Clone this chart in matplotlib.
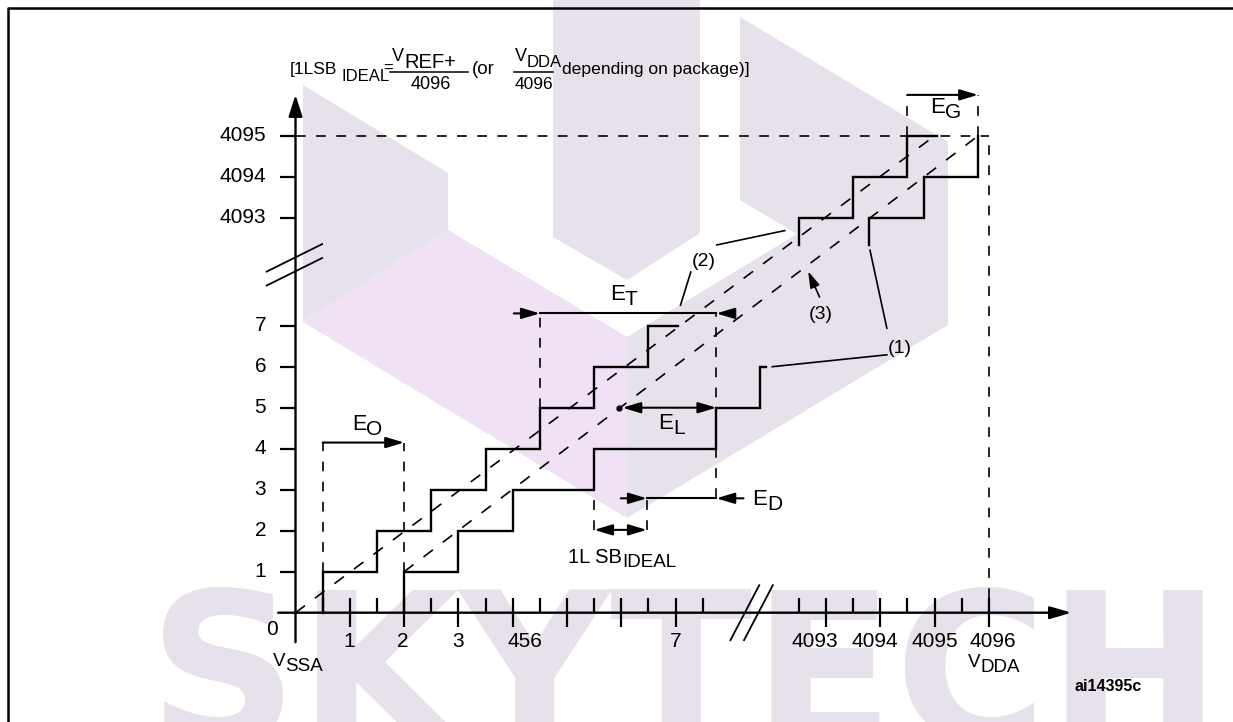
import matplotlib
matplotlib.use("Agg")
import matplotlib.pyplot as plt
from matplotlib.patches import FancyArrowPatch
import numpy as np

plt.rcParams['font.family'] = ['Liberation Sans', 'DejaVu Sans']
plt.rcParams['lines.scale_dashes'] = False

# codes above the axis breaks are drawn shifted down by these amounts
X_SHIFT = 4083.23
Y_SHIFT = 4083.37

# (2) ideal transfer curve
ideal_lo_x = [0.5, 0.5, 1.5, 1.5, 2.5, 2.5, 3.5, 3.5, 4.5, 4.5, 5.5, 5.5, 6.5, 6.5, 7.05]
ideal_lo_y = [0, 1, 1, 2, 2, 3, 3, 4, 4, 5, 5, 6, 6, 7, 7]
ideal_hi_x = [4092.5, 4092.5, 4093.5, 4093.5, 4094.5, 4094.5, 4095.05]
ideal_hi_y = [4092.34, 4093, 4093, 4094, 4094, 4095, 4095]

# (1) example of an actual transfer curve
actual_lo_x = [2, 2, 3, 3, 4, 4, 5.5, 5.5, 7.75, 7.75, 8.55, 8.55, 8.66]
actual_lo_y = [0, 1, 1, 2, 2, 3, 3, 4, 4, 5, 5, 6, 6]
actual_hi_x = [4093.8, 4093.8, 4094.8, 4094.8, 4095.8, 4095.8]
actual_hi_y = [4092.34, 4093, 4093, 4094, 4094, 4095]

# ideal straight line and (3) end point correlation line
ideal_line_x = [0, 4095.0]
ideal_line_y = [0, 4095.0]
endpoint_x = [2, 4095.8]
endpoint_y = [1, 4095]

# error markers
eo_x = [0.5, 2.0]
eo_y = 4.15
et_x = [4.5, 7.75]
et_y = 7.3
el_x = [6.02, 7.75]
el_y = 5.0
ed_x = [6.47, 7.75]
ed_y = 2.79
lsb_x = [5.5, 6.47]
lsb_y = 2.02
eg_x = [4094.5, 4095.8]
eg_y = 4096

x_major = [1, 2, 3, 4, 5, 6, 7, 4093, 4094, 4095, 4096]
x_minor = [0.5, 1.5, 2.5, 3.5, 4.5, 5.5, 6.5, 7.5, 4092.5, 4093.5, 4094.5, 4095.5]
x_labels = ["1", "2", "3", "456", "7", "4093", "4094", "4095", "4096"]
x_label_pos = [0.985, 1.98, 2.99, 4.22, 7.0, 4092.8, 4093.9, 4095.0, 4096.07]
y_ticks = [1, 2, 3, 4, 5, 6, 7, 4093, 4094, 4095]
y_labels = ["1", "2", "3", "4", "5", "6", "7", "4093", "4094", "4095"]

# background logo, image pixels
wm_gray_left = [(303, 85), (448, 173), (448, 230), (303, 322)]
wm_purple = [(303, 322), (448, 230), (627, 337), (627, 518)]
wm_gray_mid = [(553, 0), (700, 0), (700, 233), (627, 280), (553, 237)]
wm_gray_right = [(740, 17), (948, 142), (948, 325), (627, 518), (627, 337), (797, 234), (740, 200)]
GRAY = '#e6e1ea'
PURPLE = '#f0e1f5'


def bx(vals):
    a = np.asarray(vals, dtype=float)
    return np.where(a > 1000, a - X_SHIFT, a)


def by(vals):
    a = np.asarray(vals, dtype=float)
    return np.where(a > 1000, a - Y_SHIFT, a)


fig = plt.figure(figsize=(12.33, 7.22), dpi=100)

bg = fig.add_axes([0, 0, 1, 1])
bg.set_xlim(0, 1233)
bg.set_ylim(722, 0)
bg.axis('off')
for poly, col in [(wm_gray_left, GRAY), (wm_purple, PURPLE), (wm_gray_mid, GRAY), (wm_gray_right, GRAY)]:
    xs, ys = zip(*poly)
    bg.fill(xs, ys, color=col, lw=0)
wm = bg.text(685, 700, 'SKYTECH', fontsize=150, fontweight='bold', color=GRAY,
             ha='center', va='baseline', family='DejaVu Sans')
fig.canvas.draw()
fs = 150 * 1074 / wm.get_window_extent().width
wm.set_fontsize(fs)
wm.set_y(590 + 0.729 * fs * 100 / 72)
bg.plot([8, 8, 1233], [722, 8, 8], color='black', lw=1.8)

ax = fig.add_axes([0, 0, 1, 1])
ax.set_facecolor('none')
ax.set_xlim(-5.442, 17.265)
ax.set_ylim(-2.666, 14.944)
ax.axis('off')


def arrow(x0, y0, x1, y1, style='-|>', hl=11, hw=3.3, lw=1.5):
    ax.add_patch(FancyArrowPatch((x0, y0), (x1, y1),
                                 arrowstyle='%s,head_length=%s,head_width=%s' % (style, hl, hw),
                                 mutation_scale=1, lw=lw, color='black',
                                 shrinkA=0, shrinkB=0, zorder=4))


def sub_text(x, y, main, sub, size=15, sub_size=None, drop=3.6, **kw):
    t = ax.text(x, y, main, fontsize=size, ha='left', va='center', **kw)
    ax.annotate(sub, xy=(1, 0.5), xycoords=t, xytext=(0, -drop),
                textcoords='offset points', fontsize=sub_size or size,
                ha='left', va='center', **kw)
    return t


def dashed(xs, ys, on=7, off=7.5, lw=1.2):
    ax.plot(xs, ys, color='black', lw=lw, ls=(0, (on, off)), zorder=2)


def solid(xs, ys, lw=1.7):
    ax.plot(xs, ys, color='black', lw=lw, solid_joinstyle='miter', zorder=3)


# axes
arrow(-0.32, 0, 14.29, 0, hl=13, hw=3.8, lw=1.7)
arrow(0, -0.72, 0, by(4096), hl=13, hw=4.2, lw=1.7)
ax.vlines(bx(x_major), -0.35, 0.36, color='black', lw=1.6)
ax.vlines(bx(x_minor), 0, 0.36, color='black', lw=1.6)
ax.hlines(by(y_ticks), -0.29, 0, color='black', lw=1.6)
for lab, v in zip(y_labels, by(y_ticks)):
    ax.text(-0.54, v, lab, fontsize=15, ha='right', va='center')
for lab, u in zip(x_labels, bx(x_label_pos)):
    ax.text(u, -0.70, lab, fontsize=15, ha='center', va='center')
ax.text(-0.43, -0.42, '0', fontsize=15, ha='center', va='center')
sub_text(-0.414, -1.19, 'V', 'SSA', size=13.5, drop=3.6)
sub_text(12.38, -1.215, 'V', 'DDA', size=13.5, drop=3.6)

# axis breaks
for d in [0, 0.34]:
    solid([-0.53, 0.49], [7.98 + d, 8.65 + d], lw=1.3)
for d in [0, 0.25]:
    solid([8.01 + d, 8.54 + d], [-0.67, 0.67], lw=1.3)

# reference dashed lines
dashed([0, bx(4096)], [by(4095)] * 2)
dashed([bx(4096)] * 2, [0.36, by(4095)])
dashed(bx(ideal_line_x), by(ideal_line_y), on=8.5, off=9)
dashed(bx(endpoint_x), by(endpoint_y), on=8.5, off=9)

# transfer curves
solid(bx(ideal_lo_x), by(ideal_lo_y))
solid(bx(ideal_hi_x), by(ideal_hi_y))
solid(bx(actual_lo_x), by(actual_lo_y))
solid(bx(actual_hi_x), by(actual_hi_y))

# offset error
dashed([eo_x[0]] * 2, [1, eo_y])
dashed([eo_x[1]] * 2, [1, eo_y])
arrow(eo_x[0], eo_y, eo_x[1], eo_y)
sub_text(1.04, 4.59, 'E', 'O', size=15.5, sub_size=15)

# total unadjusted error
dashed([et_x[0]] * 2, [5, et_y])
dashed([et_x[1]] * 2, [ed_y, et_y])
arrow(4.02, et_y, et_x[0], et_y)
solid(et_x, [et_y, et_y], lw=1.5)
arrow(8.06, et_y, et_x[1], et_y)
sub_text(5.792, 7.749, 'E', 'T', size=16, sub_size=15)

# integral linearity error
ax.plot([5.96], [el_y], 'o', color='black', ms=3.5, zorder=5)
arrow(el_x[0], el_y, el_x[1], el_y, style='<|-|>')
sub_text(6.676, 4.615, 'E', 'L', size=16, sub_size=15)

# differential linearity error and 1 LSB
dashed([lsb_x[0]] * 2, [lsb_y, 3])
dashed([lsb_x[1]] * 2, [lsb_y, ed_y])
arrow(5.99, ed_y, ed_x[0], ed_y)
solid(ed_x, [ed_y, ed_y], lw=1.5)
arrow(8.25, ed_y, ed_x[1], ed_y)
sub_text(8.407, 2.749, 'E', 'D', size=16, sub_size=15)
arrow(lsb_x[0], lsb_y, lsb_x[1], lsb_y, style='<|-|>')
sub_text(5.018, 1.346, '1L SB', 'IDEAL', size=14.5, sub_size=13.5)

# gain error
dashed([bx(eg_x[0])] * 2, [by(4095), by(eg_y)])
dashed([bx(eg_x[1])] * 2, [by(4095), by(eg_y)])
arrow(bx(eg_x[0]), by(eg_y), bx(eg_x[1]), by(eg_y))
sub_text(11.685, 12.322, 'E', 'G', size=16, sub_size=15)

# curve call-outs
solid([7.76, 9.01], [8.97, 9.32], lw=1.2)
solid([7.28, 7.09], [8.31, 7.5], lw=1.2)
solid([10.58, 10.89], [8.84, 6.94], lw=1.2)
solid([8.78, 10.89], [6.0, 6.29], lw=1.2)
arrow(9.65, 7.7, 9.44, 8.33, hl=10, hw=3, lw=1.2)
ax.text(7.523, 8.554, '(2)', fontsize=14, ha='center', va='center')
ax.text(9.678, 7.285, '(3)', fontsize=14, ha='center', va='center')
ax.text(11.133, 6.456, '(1)', fontsize=14, ha='center', va='center')

# title formula
ax.text(-0.101, 13.237, '[1LSB', fontsize=12.5, ha='left', va='center')
ax.text(0.856, 13.09, 'IDEAL', fontsize=12, ha='left', va='center')
ax.text(1.70, 13.285, '=', fontsize=12, ha='center', va='center')
solid([1.74, 3.177], [13.195] * 2, lw=1.1)
ax.text(1.777, 13.554, 'V', fontsize=13, ha='left', va='center')
ax.text(1.998, 13.42, 'REF+', fontsize=14.5, ha='left', va='center')
ax.text(2.495, 12.883, '4096', fontsize=13, ha='center', va='center')
ax.text(3.25, 13.237, '(or', fontsize=13.5, ha='left', va='center')
solid([4.024, 4.742], [13.195] * 2, lw=1.1)
ax.text(4.042, 13.554, 'V', fontsize=13, ha='left', va='center')
ax.text(4.263, 13.42, 'DDA', fontsize=12, ha='left', va='center')
ax.text(4.392, 12.883, '4096', fontsize=12.5, ha='center', va='center')
ax.text(4.908, 13.237, 'depending on package)]', fontsize=12.6, ha='left', va='center')

ax.text(14.34, -1.79, 'ai14395c', fontsize=11.5, fontweight='bold', ha='left', va='center')

fig.savefig('out.png', dpi=100)
